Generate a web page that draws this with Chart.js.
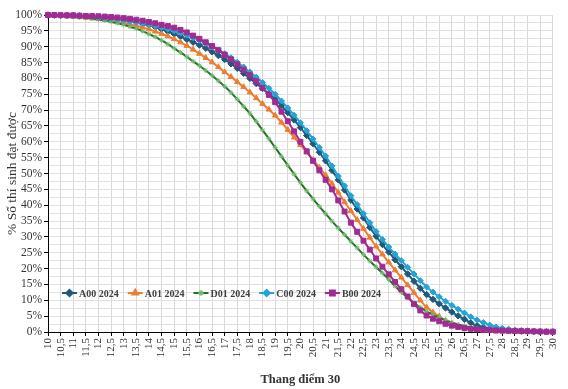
<!DOCTYPE html>
<html>
<head>
<meta charset="utf-8">
<script src="https://cdn.jsdelivr.net/npm/chart.js"></script>
<style>
  html, body { margin: 0; padding: 0; background: #fff; }
</style>
</head>
<body>
<canvas id="myChart" width="568" height="389"></canvas>
<script>
  // thang điểm 10 -> 30, bước 0,25
  const scores = [];
  for (let i = 0; i <= 80; i++) scores.push(10 + i * 0.25);

  const seriesNames = ['A00 2024', 'A01 2024', 'D01 2024', 'C00 2024', 'B00 2024'];

  const a00 = [
    100, 99.95, 99.9, 99.85, 99.8, 99.7, 99.6, 99.45, 99.3, 99.1, 98.9, 98.6,
    98.3, 98.0, 97.6, 97.2, 96.8, 96.2, 95.5, 94.8, 94.0, 93.2, 92.3, 91.4,
    90.5, 89.5, 88.4, 87.2, 86.0, 84.6, 83.2, 81.6, 80.0, 78.4, 76.8, 75.2,
    73.5, 71.4, 69.2, 66.9, 64.5, 62.0, 59.4, 56.7, 54.0, 51.0, 48.0, 44.8,
    41.6, 38.8, 36.0, 33.0, 30.2, 27.6, 25.2, 22.8, 20.6, 18.3, 16.0, 13.8,
    11.8, 10.3, 8.9, 7.6, 6.3, 5.1, 4.0, 2.9, 2.0, 1.5, 1.1, 0.8,
    0.6, 0.45, 0.35, 0.25, 0.2, 0.15, 0.1, 0.05, 0
  ];
  const a01 = [
    100, 99.9, 99.8, 99.65, 99.5, 99.35, 99.2, 99.0, 98.8, 98.5, 98.2, 97.9,
    97.5, 97.1, 96.6, 96.1, 95.5, 94.8, 94.1, 93.3, 92.4, 91.4, 90.3, 89.1,
    87.8, 86.5, 85.1, 83.6, 82.0, 80.5, 78.9, 77.3, 75.6, 73.8, 72.0, 70.2,
    68.3, 66.1, 63.8, 61.4, 59.0, 56.7, 54.3, 51.9, 49.5, 46.8, 44.0, 41.0,
    38.2, 35.4, 32.6, 29.8, 27.0, 24.5, 22.0, 19.5, 17.2, 14.8, 12.4, 10.0,
    7.8, 6.2, 4.9, 3.6, 2.6, 1.9, 1.4, 1.0, 0.7, 0.5, 0.35, 0.25,
    0.2, 0.15, 0.1, 0.07, 0.05, 0.03, 0.02, 0.01, 0
  ];
  const d01 = [
    100, 99.9, 99.8, 99.7, 99.6, 99.4, 99.2, 98.9, 98.6, 98.3, 97.9, 97.4,
    96.9, 96.3, 95.7, 94.9, 94.0, 93.1, 92.0, 90.8, 89.5, 88.2, 86.8, 85.4,
    84.0, 82.5, 80.9, 79.2, 77.5, 75.5, 73.4, 71.2, 69.0, 66.4, 63.7, 61.0,
    58.2, 55.4, 52.6, 49.8, 47.1, 44.5, 42.0, 39.6, 37.3, 35.0, 32.8, 30.7,
    28.6, 26.5, 24.4, 22.4, 20.5, 18.6, 16.6, 14.5, 12.5, 10.8, 9.2, 7.8,
    6.5, 5.4, 4.5, 3.7, 3.0, 2.4, 1.9, 1.4, 1.0, 0.75, 0.55, 0.4,
    0.3, 0.2, 0.15, 0.1, 0.05, 0.03, 0.02, 0.01, 0
  ];
  const c00 = [
    100, 99.95, 99.9, 99.8, 99.7, 99.6, 99.5, 99.35, 99.2, 99.0, 98.8, 98.6,
    98.3, 98.0, 97.7, 97.4, 97.0, 96.5, 96.0, 95.5, 95.0, 94.3, 93.6, 92.8,
    92.0, 91.0, 90.0, 88.9, 87.8, 86.5, 85.1, 83.6, 82.0, 80.4, 78.7, 76.9,
    75.0, 72.9, 70.7, 68.4, 66.0, 63.5, 60.9, 58.2, 55.5, 52.4, 49.2, 46.1,
    43.0, 40.2, 37.3, 34.5, 31.7, 29.2, 26.8, 24.6, 22.5, 20.4, 18.3, 16.2,
    14.2, 12.6, 11.1, 9.7, 8.4, 7.2, 6.0, 4.8, 3.8, 3.0, 2.2, 1.6,
    1.2, 0.9, 0.6, 0.5, 0.4, 0.3, 0.2, 0.15, 0.1
  ];
  const b00 = [
    100, 100, 99.95, 99.9, 99.9, 99.8, 99.7, 99.65, 99.6, 99.5, 99.35, 99.2,
    99.0, 98.8, 98.5, 98.2, 97.8, 97.4, 96.9, 96.5, 96.0, 95.3, 94.5, 93.5,
    92.5, 91.4, 90.2, 88.9, 87.5, 86.0, 84.4, 82.7, 81.0, 79.1, 77.0, 74.8,
    72.5, 69.5, 66.5, 63.3, 60.0, 57.0, 54.0, 51.0, 48.0, 45.0, 41.5, 38.0,
    34.5, 31.6, 28.8, 26.0, 23.2, 20.6, 18.2, 15.8, 13.5, 11.2, 8.8, 6.8,
    5.2, 4.2, 3.4, 2.6, 2.0, 1.6, 1.2, 1.0, 0.8, 0.7, 0.6, 0.5,
    0.45, 0.4, 0.35, 0.3, 0.25, 0.2, 0.15, 0.1, 0.1
  ];

  const fmt = v => String(v).replace('.', ',');

  // legend kiểu Excel, vẽ bên trong vùng biểu đồ
  const insideLegend = {
    id: 'insideLegend',
    afterDatasetsDraw(chart) {
      const { ctx, chartArea } = chart;
      const y = chartArea.bottom - 39;
      let x = chartArea.left + 14;
      ctx.save();
      ctx.font = 'bold 10px "Liberation Serif"';
      ctx.textBaseline = 'middle';
      chart.data.datasets.forEach(ds => {
        ctx.strokeStyle = ds.borderColor;
        ctx.lineWidth = 2;
        ctx.beginPath();
        ctx.moveTo(x, y);
        ctx.lineTo(x + 15, y);
        ctx.stroke();
        ctx.fillStyle = ds.pointBackgroundColor;
        ctx.strokeStyle = ds.pointBorderColor;
        Chart.helpers.drawPoint(ctx, {
          pointStyle: ds.pointStyle, radius: ds.pointRadius, rotation: 0, borderWidth: 1
        }, x + 7.5, y);
        ctx.fillStyle = '#404040';
        ctx.fillText(ds.label, x + 17, y + 1);
        x += 17 + ctx.measureText(ds.label).width + 9;
      });
      ctx.restore();
    }
  };

  const styles = [
    { color: '#1f5a7a', marker: '#1f5a7a', shape: 'rectRot', r: 3.2 },
    { color: '#ed7d31', marker: '#ed7d31', shape: 'triangle', r: 3.2 },
    { color: '#2b6e2b', marker: '#6cc06c', shape: 'star', r: 2.5 },
    { color: '#25a3d3', marker: '#25a3d3', shape: 'rectRot', r: 3 },
    { color: '#a02b93', marker: '#a02b93', shape: 'rect', r: 3.5 }
  ];
  const values = [a00, a01, d01, c00, b00];
  const drawOrder = [4, 3, 2, 1, 0];

  const ctx = document.getElementById('myChart');

  new Chart(ctx, {
    type: 'line',
    data: {
      labels: scores,
      datasets: values.map((v, i) => ({
        label: seriesNames[i],
        data: v,
        order: drawOrder[i],
        borderColor: styles[i].color,
        borderWidth: 2,
        pointStyle: styles[i].shape,
        pointRadius: styles[i].r,
        pointBackgroundColor: styles[i].marker,
        pointBorderColor: styles[i].marker,
        pointBorderWidth: 1,
        tension: 0.2,
        clip: false
      }))
    },
    plugins: [insideLegend],
    options: {
      responsive: false,
      animation: false,
      layout: { padding: { top: 15, right: 9, left: 0, bottom: 0 } },
      plugins: { legend: { display: false }, tooltip: { enabled: false } },
      scales: {
        x: {
          offset: false,
          afterFit: s => { s.height = 57; },
          border: { color: '#000', width: 1 },
          grid: {
            color: c => c.index % 2 ? 'rgba(0,0,0,0)' : '#d9d9d9',
            tickColor: c => c.index % 2 ? 'rgba(0,0,0,0)' : '#000',
            tickLength: 4
          },
          ticks: {
            autoSkip: false,
            maxRotation: 90,
            minRotation: 90,
            padding: 2,
            color: '#333',
            font: { family: '"Liberation Serif"', size: 11 },
            callback: (val, i) => i % 2 ? '' : fmt(scores[i])
          },
          title: {
            display: true,
            text: 'Thang điểm 30',
            color: '#333',
            padding: { top: 0, bottom: 2 },
            font: { family: '"Liberation Serif"', size: 12.5, weight: 'bold' }
          }
        },
        y: {
          min: 0,
          max: 100,
          afterFit: s => { s.width = 48; },
          border: { color: '#000', width: 1 },
          grid: {
            color: '#e0e0e0',
            tickColor: c => c.tick.value % 5 ? 'rgba(0,0,0,0)' : '#000',
            tickLength: 4
          },
          ticks: {
            stepSize: 2.5,
            autoSkip: false,
            padding: 2,
            color: '#333',
            font: { family: '"Liberation Serif"', size: 11.5 },
            callback: v => v % 5 ? '' : v + '%'
          },
          title: {
            display: true,
            text: '% Số thí sinh đạt được',
            color: '#333',
            padding: { top: 4, bottom: 0 },
            font: { family: '"Liberation Serif"', size: 13.5 }
          }
        }
      }
    }
  });
</script>
</body>
</html>
